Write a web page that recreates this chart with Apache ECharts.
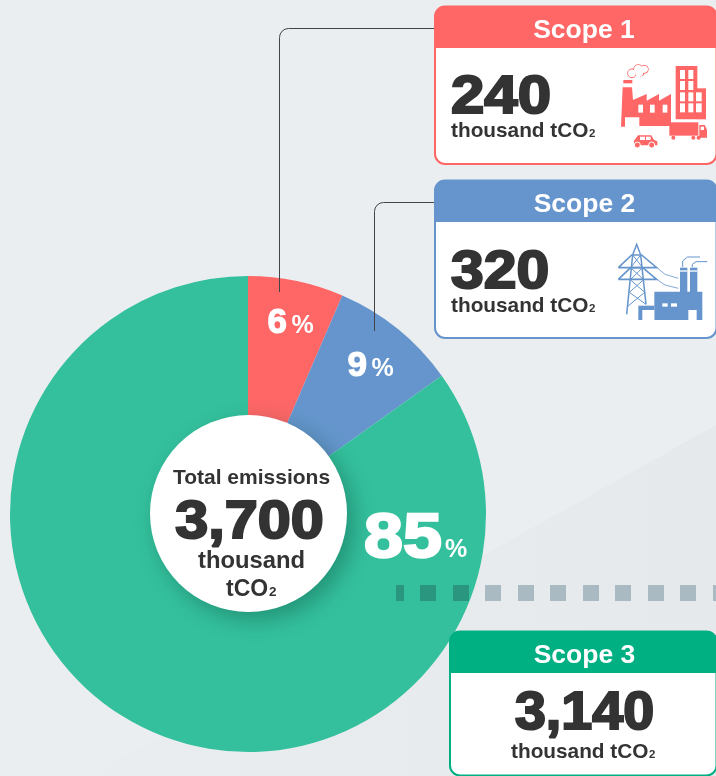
<!DOCTYPE html>
<html>
<head>
<meta charset="utf-8">
<style>
html,body{margin:0;padding:0;background:#ebeef1;}
#main{width:716px;height:776px;}
</style>
<script src="https://cdn.jsdelivr.net/npm/echarts@6/dist/echarts.min.js"></script>
</head>
<body>
<div id="main"></div>
<script>
// data
var scopeNames = ['Scope 1', 'Scope 2', 'Scope 3'];
var scopeValues = [240, 320, 3140];
var scopeLabels = ['240', '320', '3,140'];
var scopePercents = ['6', '9', '85'];
var totalLabel = '3,700';
var unitLabel = 'thousand tCO';

var RED = '#ff6666', BLUE = '#6595cc', GREEN = '#34c09c', DEEP = '#00b083', INK = '#333333';
var FONT = '"Liberation Sans", Arial, sans-serif';
var els = [];

function rect(x, y, w, h, fill, r, z) {
  els.push({type: 'rect', z: z === undefined ? 10 : z, silent: true, shape: {x: x, y: y, width: w, height: h, r: r || 0}, style: {fill: fill}});
}
function poly(points, fill, z) {
  els.push({type: 'polygon', z: z === undefined ? 10 : z, silent: true, shape: {points: points}, style: {fill: fill}});
}
function circle(cx, cy, r, fill, stroke, lw) {
  els.push({type: 'circle', z: 10, silent: true, shape: {cx: cx, cy: cy, r: r}, style: {fill: fill, stroke: stroke, lineWidth: lw || 0}});
}
function polyline(points, color, lw, z) {
  els.push({type: 'polyline', z: z === undefined ? 10 : z, silent: true, shape: {points: points}, style: {fill: 'none', stroke: color, lineWidth: lw}});
}
// y is the text baseline
function text(str, x, y, size, color, align, heavy, sx) {
  els.push({
    type: 'text', z: 20, silent: true, x: x, y: y - size * 0.27,
    scaleX: sx || 1, originX: 0, originY: 0,
    style: {
      text: str, x: 0, y: 0, fill: color, align: align || 'left', verticalAlign: 'middle',
      font: 'bold ' + size + 'px ' + FONT,
      stroke: heavy ? color : null, lineWidth: heavy || 0
    }
  });
}
// "thousand tCO" + small 2
function unit(x, y, size, color) {
  text(unitLabel, x, y, size, color, 'left');
  var c = document.createElement('canvas').getContext('2d');
  c.font = 'bold ' + size + 'px ' + FONT;
  text('2', x + c.measureText(unitLabel).width + 0.5, y, size * 0.55, color, 'left');
}

function card(x, y, bottom, color, title, titleX) {
  var w = 717 - x;
  rect(x, y, w, bottom - y, '#ffffff', 10, 5);
  rect(x, y, w, 42, color, [10, 10, 0, 0], 6);
  els.push({type: 'rect', z: 7, silent: true, shape: {x: x + 0.5, y: y + 0.5, width: w - 1, height: bottom - y - 1, r: 10}, style: {fill: 'none', stroke: color, lineWidth: 2}});
  text(title, titleX, y + 32, 26.5, '#ffffff', 'center');
}

// rounded elbow from the card to the pie
function elbow(y, xCard, xDown, yEnd) {
  polyline([[xCard, y], [xDown + 9, y]], '#444444', 1, 8);
  els.push({type: 'arc', z: 8, silent: true, shape: {cx: xDown + 9, cy: y + 9, r: 9, startAngle: Math.PI, endAngle: Math.PI * 1.5}, style: {fill: 'none', stroke: '#444444', lineWidth: 1}});
  polyline([[xDown, y + 9], [xDown, yEnd]], '#444444', 1, 8);
}

// background
rect(0, 0, 716, 776, '#ebeef1', 0, 0);
poly([[716, 425], [716, 776], [89, 776]], new echarts.graphic.LinearGradient(0, 0, 1, 0, [
  {offset: 0, color: '#eaedf0'}, {offset: 0.6, color: '#e8ebee'}, {offset: 1, color: '#e5e9ec'}
]), 1);

// connector lines
elbow(28.5, 434, 279.5, 292);
elbow(202.5, 434, 374.5, 331);

// scope cards
card(434.5, 6, 164.5, RED, scopeNames[0], 584);
card(434.5, 180, 338.5, BLUE, scopeNames[1], 584.5);
card(449.5, 631, 776, DEEP, scopeNames[2], 584.5);

text(scopeLabels[0], 451, 113, 54, INK, 'left', 2.2, 1.11);
unit(451, 137, 20.8, INK);
text(scopeLabels[1], 451, 288, 54, INK, 'left', 2.2, 1.09);
unit(451, 312, 20.8, INK);
text(scopeLabels[2], 584.5, 729, 54, INK, 'center', 2.2, 1.03);
unit(511, 758, 20.8, INK);

// percent labels on the pie
text(scopePercents[0], 267.5, 333, 35, '#ffffff', 'left', 1.2);
text('%', 291.5, 333, 25, '#ffffff', 'left');
text(scopePercents[1], 347.5, 376, 35, '#ffffff', 'left', 1.2);
text('%', 371.5, 376, 25, '#ffffff', 'left');
text(scopePercents[2], 364, 556.5, 63, '#ffffff', 'left', 2.4, 1.11);
text('%', 445, 557, 25, '#ffffff', 'left');

// dashed bar across the pie edge
rect(396, 585, 8, 16, '#2a967f', 0, 9);
[420, 453].forEach(function (x) { rect(x, 585, 16, 16, '#2a967f', 0, 9); });
[485, 518, 550, 583, 615, 648, 680, 713].forEach(function (x) { rect(x, 585, 16, 16, '#aabac3', 0, 9); });

// center disc
els.push({type: 'circle', z: 12, silent: true, shape: {cx: 248.5, cy: 513.5, r: 98.5},
  style: {fill: '#ffffff', shadowBlur: 22, shadowOffsetX: 7, shadowOffsetY: 8, shadowColor: 'rgba(0,60,50,0.35)'}});
text('Total emissions', 251.5, 484, 21, INK, 'center');
text(totalLabel, 249.5, 537.5, 54, INK, 'center', 2.2, 1.1);
text('thousand', 251.5, 568, 23.8, INK, 'center');
text('tCO', 226, 596, 23, INK, 'left');
text('2', 269, 596, 13.5, INK, 'left');

// scope 1 icon, coordinates taken from the 3x crop
function zx(v) { return 430 + v / 3; }
function zrect(x0, y0, x1, y1, off, fill) { rect(zx(x0), off + y0 / 3, (x1 - x0) / 3, (y1 - y0) / 3, fill); }
function zpoly(pts, off, fill) { poly(pts.map(function (p) { return [zx(p[0]), off + p[1] / 3]; }), fill); }
function zcirc(cx, cy, r, off, fill, stroke, lw) { circle(zx(cx), off + cy / 3, r / 3, fill, stroke, lw); }

zrect(580, 240, 607, 250, 0, RED);
zpoly([[578, 262], [606, 262], [609, 300], [650, 282], [650, 302], [687, 282], [687, 302], [723, 282], [723, 378], [628, 378], [628, 352], [585, 352], [585, 380], [573, 380]], 0, RED);
[625, 660, 698].forEach(function (x) { zrect(x, 314, x + 14, 338, 0, '#ffffff'); });
zrect(737, 198, 802, 358, 0, RED);
zrect(800, 265, 828, 358, 0, RED);
[210, 243, 277, 310].forEach(function (y) {
  zrect(750, y, 765, y + 27, 0, '#ffffff');
  zrect(775, y, 790, y + 27, 0, '#ffffff');
});
[277, 310].forEach(function (y) { zrect(798, y, 815, y + 27, 0, '#ffffff'); });
zrect(718, 367, 805, 407, 0, RED);
zpoly([[808, 375], [824, 375], [831, 390], [831, 413], [808, 413]], 0, RED);
zrect(812, 380, 822, 390, 0, '#ffffff');
[730, 790, 806].forEach(function (x) { zcirc(x, 413, 6, 0, RED); });
zpoly([[612, 422], [624, 406], [664, 406], [672, 420], [682, 424], [682, 436], [612, 436]], 0, RED);
zrect(630, 410, 645, 420, 0, '#ffffff');
zrect(648, 410, 662, 420, 0, '#ffffff');
[622, 665].forEach(function (x) { zcirc(x, 435, 9, 0, RED, '#ffffff', 1); });
[[606, 220, 13], [625, 208, 14], [643, 208, 12], [632, 218, 10]].forEach(function (c) { zcirc(c[0], c[1], c[2], 0, '#ffffff', RED, 1); });
[[606, 220, 11], [625, 208, 12], [643, 208, 10], [628, 218, 11]].forEach(function (c) { zcirc(c[0], c[1], c[2], 0, '#ffffff'); });

// scope 2 icon, from its own 3x crop at (610,235)
function tx(x) { return 610 + x / 3; }
function ty(y) { return 235 + y / 3; }
function tline(pts, lw) { polyline(pts.map(function (p) { return [tx(p[0]), ty(p[1])]; }), BLUE, lw); }
function trect(x0, y0, x1, y1, fill) { rect(tx(x0), ty(y0), (x1 - x0) / 3, (y1 - y0) / 3, fill); }

// tower
tline([[50, 238], [68, 60], [80, 28], [92, 60], [108, 208]], 1.5);
tline([[25, 98], [140, 98], [95, 60], [65, 60], [25, 98]], 1.6);
tline([[25, 133], [140, 133], [98, 98], [62, 98], [25, 133]], 1.6);
tline([[68, 60], [98, 98], [62, 133], [100, 133], [62, 98], [92, 60]], 1);
tline([[62, 135], [104, 172], [52, 215]], 1);
tline([[100, 135], [58, 172], [108, 208]], 1);
// wires
tline([[143, 100], [165, 118], [205, 130]], 0.8);
tline([[143, 135], [165, 150], [205, 160]], 0.8);
// plant
trect(133, 170, 277, 255, BLUE);
trect(85, 212, 133, 255, BLUE);
trect(97, 225, 133, 255, '#ffffff');
trect(235, 225, 260, 255, '#ffffff');
trect(210, 98, 232, 171, BLUE);
trect(240, 98, 262, 171, BLUE);
trect(210, 106, 232, 110, '#ffffff');
trect(240, 106, 262, 110, '#ffffff');
trect(157, 205, 173, 215, '#ffffff');
trect(183, 205, 201, 215, '#ffffff');
tline([[218, 96], [218, 78], [232, 66], [270, 66]], 1);
tline([[247, 96], [247, 88], [258, 80], [292, 80]], 1);

var chart = echarts.init(document.getElementById('main'), null, {renderer: 'canvas'});
chart.setOption({
  animation: false,
  graphic: {elements: els},
  series: [{
    type: 'pie',
    silent: true,
    center: [248, 514],
    radius: [0, 238],
    startAngle: 90,
    clockwise: true,
    z: 3,
    label: {show: false},
    labelLine: {show: false},
    data: [
      {name: scopeNames[0], value: scopeValues[0], itemStyle: {color: RED}},
      {name: scopeNames[1], value: scopeValues[1], itemStyle: {color: BLUE}},
      {name: scopeNames[2], value: scopeValues[2], itemStyle: {color: GREEN}}
    ]
  }]
});
</script>
</body>
</html>
